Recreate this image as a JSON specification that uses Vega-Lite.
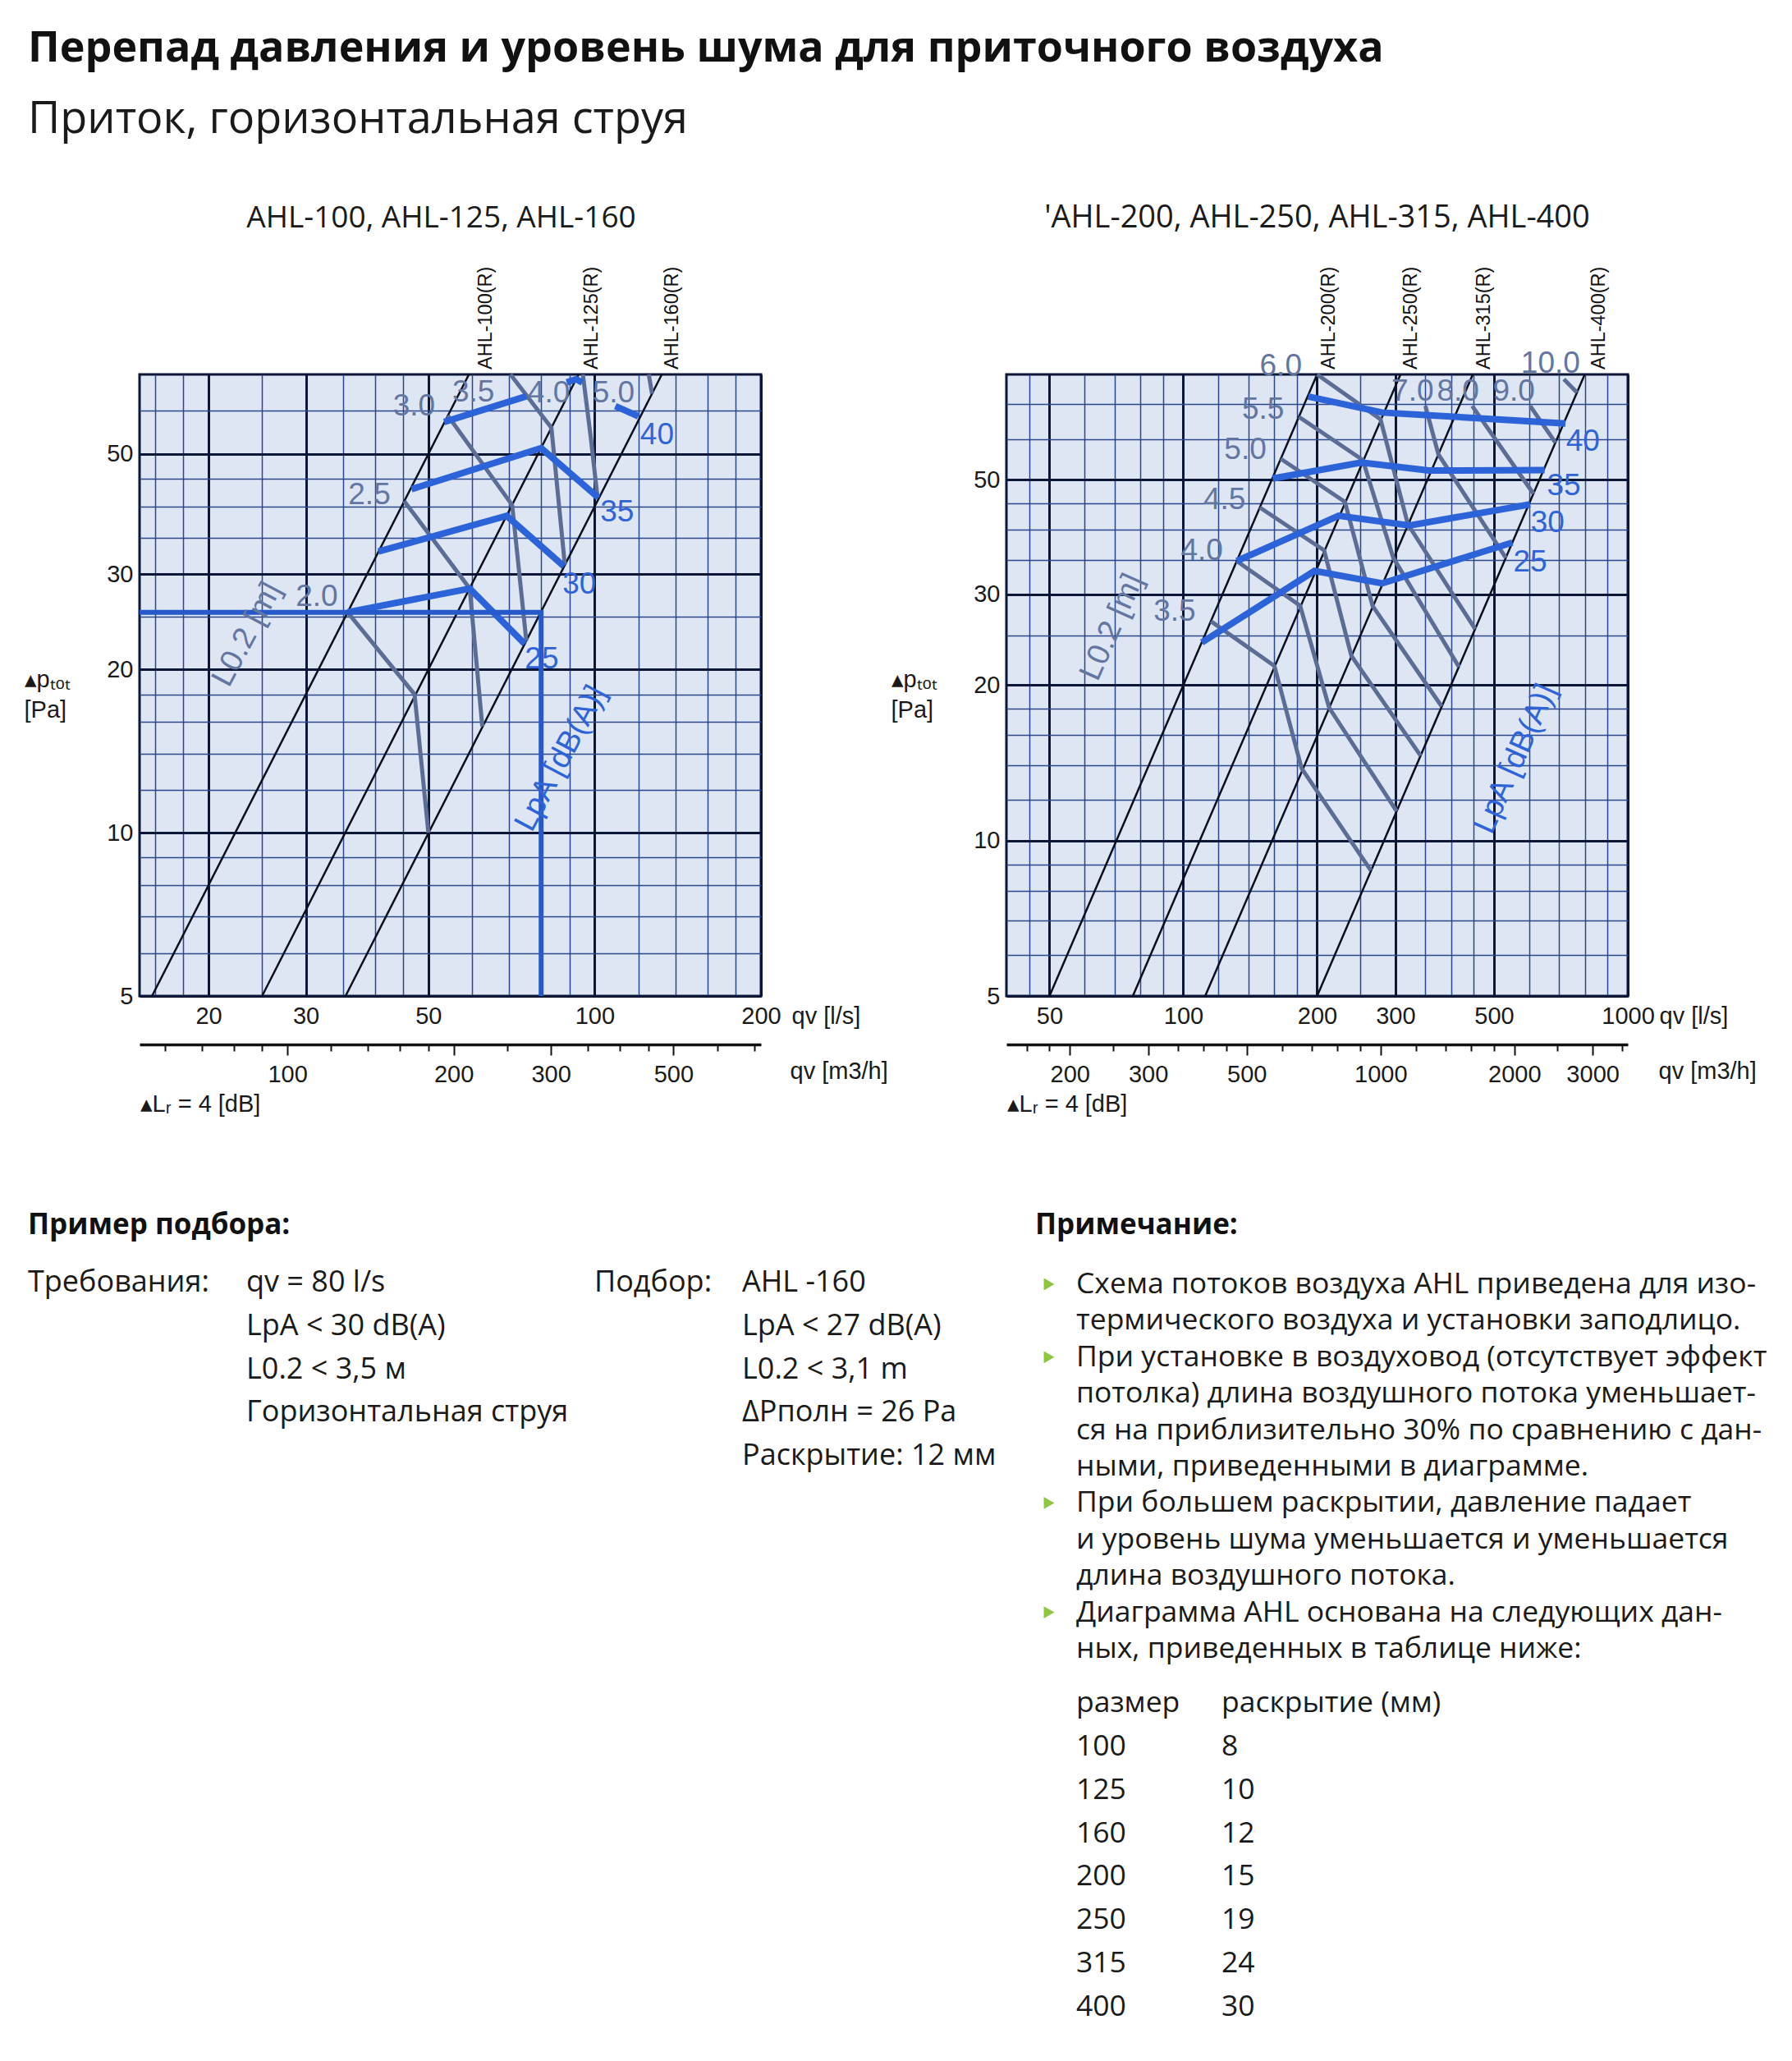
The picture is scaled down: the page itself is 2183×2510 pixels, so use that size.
{
"$schema":"https://vega.github.io/schema/vega-lite/v6.json",
"background":"white",
"padding":{"left":27,"top":33,"right":10,"bottom":10},
"title":{"text":"Перепад давления и уровень шума для приточного воздуха","subtitle":"Приток, горизонтальная струя","anchor":"start","frame":"group","dx":-136,"offset":71,"font":"Open Sans","fontSize":52,"fontWeight":"bold","color":"#111111","subtitleFont":"Open Sans","subtitleFontSize":54,"subtitleFontWeight":"normal","subtitleColor":"#1a1a1a","subtitlePadding":33},
"columns":2,
"spacing":{"row":323,"column":299},
"bounds":"flush",
"align":"each",
"datasets":{
"diag_L":[{"line":"AHL-100(R)","q":15.8,"dp":5},{"line":"AHL-100(R)","q":59.2,"dp":70},{"line":"AHL-125(R)","q":25,"dp":5},{"line":"AHL-125(R)","q":93.5,"dp":70},{"line":"AHL-160(R)","q":35.4,"dp":5},{"line":"AHL-160(R)","q":132.3,"dp":70}],
"throw_L":[
{"L":"2.0","pt":1,"q":35.7,"dp":25.5},{"L":"2.0","pt":2,"q":47.2,"dp":18},{"L":"2.0","pt":3,"q":50,"dp":10},
{"L":"2.5","pt":1,"q":45.2,"dp":40.9},{"L":"2.5","pt":2,"q":59.4,"dp":28.2},{"L":"2.5","pt":3,"q":62.6,"dp":15.7},
{"L":"3.0","pt":1,"q":54.2,"dp":58.8},{"L":"3.0","pt":2,"q":70.9,"dp":40.2},{"L":"3.0","pt":3,"q":75.2,"dp":22.6},
{"L":"3.5","pt":1,"q":70.4,"dp":70},{"L":"3.5","pt":2,"q":83.5,"dp":55.8},{"L":"3.5","pt":3,"q":88.3,"dp":31.2},
{"L":"4.0","pt":1,"q":95.2,"dp":70},{"L":"4.0","pt":2,"q":98.4,"dp":53.5},{"L":"4.0","pt":3,"q":101.2,"dp":41.5},
{"L":"5.0","pt":1,"q":125.3,"dp":70},{"L":"5.0","pt":2,"q":127,"dp":64.5}],
"noise_L":[
{"LpA":25,"seg":"25","pt":1,"q":35.7,"dp":25.5},{"LpA":25,"seg":"25","pt":2,"q":59.4,"dp":28.2},{"LpA":25,"seg":"25","pt":3,"q":74.7,"dp":22.3},
{"LpA":30,"seg":"30","pt":1,"q":40.6,"dp":33},{"LpA":30,"seg":"30","pt":2,"q":69.3,"dp":38.4},{"LpA":30,"seg":"30","pt":3,"q":88,"dp":31},
{"LpA":35,"seg":"35","pt":1,"q":46.6,"dp":43},{"LpA":35,"seg":"35","pt":2,"q":80,"dp":51.2},{"LpA":35,"seg":"35","pt":3,"q":101.5,"dp":41.5},
{"LpA":40,"seg":"40a","pt":1,"q":53.4,"dp":57.2},{"LpA":40,"seg":"40a","pt":2,"q":75.2,"dp":63.8},
{"LpA":40,"seg":"40b","pt":1,"q":89,"dp":67.7},{"LpA":40,"seg":"40b","pt":2,"q":92.6,"dp":68.6},{"LpA":40,"seg":"40b","pt":3,"q":95,"dp":67.6},
{"LpA":40,"seg":"40c","pt":1,"q":109,"dp":61.2},{"LpA":40,"seg":"40c","pt":2,"q":120,"dp":58.6}],
"example_L":[{"pt":1,"q":15,"dp":25.5},{"pt":2,"q":80,"dp":25.5},{"pt":3,"q":80,"dp":5}],
"labels_L":[
{"kind":"gray","text":"2.0","q":31.4,"dp":27.2},{"kind":"gray","text":"2.5","q":39.1,"dp":42},{"kind":"gray","text":"3.0","q":47.1,"dp":61.1},{"kind":"gray","text":"3.5","q":60.3,"dp":64.9},{"kind":"gray","text":"4.0","q":82.6,"dp":64.6},{"kind":"gray","text":"5.0","q":108.2,"dp":64.6},
{"kind":"blue","text":"25","q":80.2,"dp":20.9},{"kind":"blue","text":"30","q":93.8,"dp":28.7},{"kind":"blue","text":"35","q":109.8,"dp":39},{"kind":"blue","text":"40","q":129.7,"dp":54.1},
{"kind":"rotgray","text":"L0.2 [m]","q":23.5,"dp":23.2},{"kind":"rotblue","text":"LpA [dB(A)]","q":87,"dp":13.7}],
"ahl_L":[{"label":"AHL-100(R)","q":63.6,"dp":70},{"label":"AHL-125(R)","q":98.9,"dp":70},{"label":"AHL-160(R)","q":138,"dp":70}],
"diag_R":[{"line":"AHL-200(R)","q":50,"dp":5},{"line":"AHL-200(R)","q":200,"dp":80},{"line":"AHL-250(R)","q":77,"dp":5},{"line":"AHL-250(R)","q":308,"dp":80},{"line":"AHL-315(R)","q":112,"dp":5},{"line":"AHL-315(R)","q":448,"dp":80},{"line":"AHL-400(R)","q":200,"dp":5},{"line":"AHL-400(R)","q":800,"dp":80}],
"throw_R":[
{"L":"3.5","pt":1,"q":115.4,"dp":26.6},{"L":"3.5","pt":2,"q":160.3,"dp":21.8},{"L":"3.5","pt":3,"q":184.6,"dp":13.8},{"L":"3.5","pt":4,"q":264.2,"dp":8.75},
{"L":"4.0","pt":1,"q":131.9,"dp":34.8},{"L":"4.0","pt":2,"q":183.2,"dp":28.5},{"L":"4.0","pt":3,"q":212.8,"dp":18.1},{"L":"4.0","pt":4,"q":301.9,"dp":11.4},
{"L":"4.5","pt":1,"q":148.6,"dp":44.2},{"L":"4.5","pt":2,"q":207.4,"dp":36.5},{"L":"4.5","pt":3,"q":238.8,"dp":22.8},{"L":"4.5","pt":4,"q":341.9,"dp":14.6},
{"L":"5.0","pt":1,"q":165.7,"dp":54.9},{"L":"5.0","pt":2,"q":231,"dp":45.3},{"L":"5.0","pt":3,"q":266.5,"dp":28.5},{"L":"5.0","pt":4,"q":381.2,"dp":18.2},
{"L":"5.5","pt":1,"q":182,"dp":66.2},{"L":"5.5","pt":2,"q":253.4,"dp":54.6},{"L":"5.5","pt":3,"q":296.8,"dp":35.3},{"L":"5.5","pt":4,"q":417,"dp":21.7},
{"L":"6.0","pt":1,"q":200,"dp":80},{"L":"6.0","pt":2,"q":277.7,"dp":65.5},{"L":"6.0","pt":3,"q":320.1,"dp":41},{"L":"6.0","pt":4,"q":453.5,"dp":25.7},
{"L":"7.0","pt":1,"q":350.4,"dp":69.5},{"L":"7.0","pt":2,"q":374.9,"dp":56},{"L":"7.0","pt":3,"q":531.6,"dp":35.3},
{"L":"8.0","pt":1,"q":446.5,"dp":69.5},{"L":"8.0","pt":2,"q":613.4,"dp":47},
{"L":"9.0","pt":1,"q":603,"dp":69.5},{"L":"9.0","pt":2,"q":687.6,"dp":59},
{"L":"10.0","pt":1,"q":718,"dp":78.3},{"L":"10.0","pt":2,"q":768.4,"dp":73.8}],
"noise_R":[
{"LpA":25,"seg":"25","pt":1,"q":110.1,"dp":24.2},{"LpA":25,"seg":"25","pt":2,"q":197.3,"dp":33.3},{"LpA":25,"seg":"25","pt":3,"q":280,"dp":31.5},{"LpA":25,"seg":"25","pt":4,"q":550,"dp":37.8},
{"LpA":30,"seg":"30","pt":1,"q":131.9,"dp":34.8},{"LpA":30,"seg":"30","pt":2,"q":223.6,"dp":42.6},{"LpA":30,"seg":"30","pt":3,"q":322.8,"dp":40.8},{"LpA":30,"seg":"30","pt":4,"q":602.8,"dp":44.8},
{"LpA":35,"seg":"35","pt":1,"q":158.9,"dp":50.3},{"LpA":35,"seg":"35","pt":2,"q":251.4,"dp":54},{"LpA":35,"seg":"35","pt":3,"q":356.6,"dp":52.1},{"LpA":35,"seg":"35","pt":4,"q":650,"dp":52.2},
{"LpA":40,"seg":"40","pt":1,"q":190.9,"dp":72.5},{"LpA":40,"seg":"40","pt":2,"q":280,"dp":67.5},{"LpA":40,"seg":"40","pt":3,"q":724,"dp":64.3}],
"labels_R":[
{"kind":"gray","text":"6.0","q":165.7,"dp":83},{"kind":"gray","text":"5.5","q":151.2,"dp":68.3},{"kind":"gray","text":"5.0","q":137.9,"dp":57.1},{"kind":"gray","text":"4.5","q":123.8,"dp":45.6},{"kind":"gray","text":"4.0","q":110.1,"dp":36.4},{"kind":"gray","text":"3.5","q":95.6,"dp":27.8},
{"kind":"gray","text":"7.0","q":328,"dp":74},{"kind":"gray","text":"8.0","q":415,"dp":74},{"kind":"gray","text":"9.0","q":554,"dp":74},{"kind":"gray","text":"10.0","q":670,"dp":84},
{"kind":"blue","text":"25","q":603,"dp":34.6},{"kind":"blue","text":"30","q":660,"dp":41.2},{"kind":"blue","text":"35","q":718,"dp":48.7},{"kind":"blue","text":"40","q":792.7,"dp":59.2},
{"kind":"rotgray","text":"L0.2 [m]","q":69.2,"dp":25.9},{"kind":"rotblue","text":"LpA [dB(A)]","q":560,"dp":14.4}],
"ahl_R":[{"label":"AHL-200(R)","q":213,"dp":80},{"label":"AHL-250(R)","q":325,"dp":80},{"label":"AHL-315(R)","q":476,"dp":80},{"label":"AHL-400(R)","q":860,"dp":80}],
"example_req":[{"col":"k","line":1,"text":"Требования:"},{"col":"v","line":1,"text":"qv = 80 l/s"},{"col":"v","line":2,"text":"LpA < 30 dB(A)"},{"col":"v","line":3,"text":"L0.2 < 3,5 м"},{"col":"v","line":4,"text":"Горизонтальная струя"}],
"example_sel":[{"col":"k","line":1,"text":"Подбор:"},{"col":"v","line":1,"text":"AHL -160"},{"col":"v","line":2,"text":"LpA < 27 dB(A)"},{"col":"v","line":3,"text":"L0.2 < 3,1 m"},{"col":"v","line":4,"text":"ΔPполн = 26 Pa"},{"col":"v","line":5,"text":"Раскрытие: 12 мм"}],
"notes_bullets":[{"line":1,"col":"bullet"},{"line":3,"col":"bullet"},{"line":7,"col":"bullet"},{"line":10,"col":"bullet"}],
"notes_lines":[
{"line":1,"col":"text","text":"Схема потоков воздуха AHL приведена для изо-"},
{"line":2,"col":"text","text":"термического воздуха и установки заподлицо."},
{"line":3,"col":"text","text":"При установке в воздуховод (отсутствует эффект"},
{"line":4,"col":"text","text":"потолка) длина воздушного потока уменьшает-"},
{"line":5,"col":"text","text":"ся на приблизительно 30% по сравнению с дан-"},
{"line":6,"col":"text","text":"ными, приведенными в диаграмме."},
{"line":7,"col":"text","text":"При большем раскрытии, давление падает"},
{"line":8,"col":"text","text":"и уровень шума уменьшается и уменьшается"},
{"line":9,"col":"text","text":"длина воздушного потока."},
{"line":10,"col":"text","text":"Диаграмма AHL основана на следующих дан-"},
{"line":11,"col":"text","text":"ных, приведенных в таблице ниже:"}],
"notes_table":[
{"row":0,"col":"size","text":"размер"},{"row":0,"col":"opening","text":"раскрытие (мм)"},
{"row":1,"col":"size","text":"100"},{"row":1,"col":"opening","text":"8"},
{"row":2,"col":"size","text":"125"},{"row":2,"col":"opening","text":"10"},
{"row":3,"col":"size","text":"160"},{"row":3,"col":"opening","text":"12"},
{"row":4,"col":"size","text":"200"},{"row":4,"col":"opening","text":"15"},
{"row":5,"col":"size","text":"250"},{"row":5,"col":"opening","text":"19"},
{"row":6,"col":"size","text":"315"},{"row":6,"col":"opening","text":"24"},
{"row":7,"col":"size","text":"400"},{"row":7,"col":"opening","text":"30"}]
},
"concat":[
{
"width":757,"height":757,
"view":{"fill":"#dfe6f3","stroke":"#0c1738","strokeWidth":3},
"title":{"text":"AHL-100, AHL-125, AHL-160","anchor":"middle","dx":-11,"font":"Open Sans","fontSize":37,"fontWeight":"normal","color":"#1a1a1a","offset":40},
"resolve":{"scale":{"x":"independent"}},
"layer":[
{"data":{"name":"diag_L"},"mark":{"type":"line","color":"#0a0f1f","strokeWidth":2.5},
"encoding":{
"x":{"field":"q","type":"quantitative","scale":{"type":"log","domain":[15,200],"nice":false},
"axis":{"orient":"bottom","values":[16,18,20,25,30,35,40,45,50,60,70,80,90,100,120,140,160,180,200],
"labelExpr":"indexof([20,30,50,100,200], datum.value) >= 0 ? format(datum.value, 'd') : ''",
"grid":true,"gridOpacity":1,
"gridColor":{"condition":{"test":"indexof([20,30,50,100,200], datum.value) >= 0","value":"#0c1738"},"value":"#29478a"},
"gridWidth":{"condition":{"test":"indexof([20,30,50,100,200], datum.value) >= 0","value":3},"value":1.5},
"ticks":false,"domain":false,"labelFont":"Liberation Sans","labelFontSize":29,"labelColor":"#1a1a1a","labelPadding":10,"labelFlush":false,"labelOverlap":false,
"title":"qv [l/s]","titleX":794,"titleY":24,"titleAlign":"left","titleBaseline":"middle","titleFont":"Liberation Sans","titleFontSize":29,"titleFontWeight":"normal","titleColor":"#1a1a1a"}},
"y":{"field":"dp","type":"quantitative","scale":{"type":"log","domain":[5,70],"nice":false},
"axis":{"orient":"left","values":[5,6,7,8,9,10,12,14,16,18,20,25,30,35,40,45,50,60],
"labelExpr":"indexof([5,10,20,30,50], datum.value) >= 0 ? format(datum.value, 'd') : ''",
"grid":true,"gridOpacity":1,
"gridColor":{"condition":{"test":"indexof([5,10,20,30,50], datum.value) >= 0","value":"#0c1738"},"value":"#29478a"},
"gridWidth":{"condition":{"test":"indexof([5,10,20,30,50], datum.value) >= 0","value":3},"value":1.5},
"ticks":false,"domain":false,"labelFont":"Liberation Sans","labelFontSize":29,"labelColor":"#1a1a1a","labelPadding":8,"labelFlush":false,"labelOverlap":false,
"title":["▴pₜₒₜ","[Pa]"],"titleAngle":0,"titleX":-141,"titleY":371,"titleAlign":"left","titleBaseline":"middle","titleLineHeight":37,"titleFont":"Liberation Sans","titleFontSize":29,"titleFontWeight":"normal","titleColor":"#1a1a1a"}},
"detail":{"field":"line","type":"nominal"}}},
{"data":{"name":"throw_L"},"mark":{"type":"line","color":"#5b6d95","strokeWidth":5},
"encoding":{"x":{"field":"q","type":"quantitative","scale":{"type":"log","domain":[15,200],"nice":false},"axis":null},
"y":{"field":"dp","type":"quantitative"},"detail":{"field":"L","type":"nominal"},"order":{"field":"pt","type":"quantitative"}}},
{"data":{"name":"noise_L"},"mark":{"type":"line","color":"#2d63d8","strokeWidth":8},
"encoding":{"x":{"field":"q","type":"quantitative","scale":{"type":"log","domain":[15,200],"nice":false},"axis":null},
"y":{"field":"dp","type":"quantitative"},"detail":{"field":"seg","type":"nominal"},"order":{"field":"pt","type":"quantitative"}}},
{"data":{"name":"example_L"},"mark":{"type":"line","color":"#2659c9","strokeWidth":6},
"encoding":{"x":{"field":"q","type":"quantitative","scale":{"type":"log","domain":[15,200],"nice":false},"axis":null},
"y":{"field":"dp","type":"quantitative"},"order":{"field":"pt","type":"quantitative"}}},
{"data":{"name":"labels_L"},"transform":[{"filter":"datum.kind == 'gray' || datum.kind == 'blue'"}],
"mark":{"type":"text","font":"Liberation Sans","fontSize":37,"align":"center","baseline":"middle"},
"encoding":{"x":{"field":"q","type":"quantitative","scale":{"type":"log","domain":[15,200],"nice":false},"axis":null},
"y":{"field":"dp","type":"quantitative"},"text":{"field":"text"},
"color":{"condition":{"test":"datum.kind == 'blue'","value":"#2e64d8"},"value":"#6376a1"}}},
{"data":{"name":"labels_L"},"transform":[{"filter":"datum.kind == 'rotgray' || datum.kind == 'rotblue'"}],
"mark":{"type":"text","font":"Liberation Sans","fontSize":38,"align":"center","baseline":"middle","angle":298},
"encoding":{"x":{"field":"q","type":"quantitative","scale":{"type":"log","domain":[15,200],"nice":false},"axis":null},
"y":{"field":"dp","type":"quantitative"},"text":{"field":"text"},
"color":{"condition":{"test":"datum.kind == 'rotblue'","value":"#2e64d8"},"value":"#6376a1"}}},
{"data":{"name":"ahl_L"},
"mark":{"type":"text","font":"Liberation Sans","fontSize":23.5,"align":"left","baseline":"middle","angle":270,"dx":6,"color":"#111111"},
"encoding":{"x":{"field":"q","type":"quantitative","scale":{"type":"log","domain":[15,200],"nice":false},
"axis":{"orient":"bottom","labels":false,"ticks":false,"domain":false,"grid":false,"title":"▴Lᵣ = 4 [dB]","titleX":0,"titleY":131,"titleAlign":"left","titleBaseline":"middle","titleFont":"Liberation Sans","titleFontSize":29,"titleFontWeight":"normal","titleColor":"#1a1a1a"}},
"y":{"field":"dp","type":"quantitative"},"text":{"field":"label"}}},
{"mark":{"type":"point","opacity":0},
"encoding":{"x":{"datum":100,"type":"quantitative","scale":{"type":"log","domain":[54,720],"nice":false},
"axis":{"orient":"bottom","offset":59,"values":[60,70,80,90,100,120,140,160,180,200,250,300,350,400,450,500,600,700],
"labelExpr":"indexof([100,200,300,500], datum.value) >= 0 ? format(datum.value, 'd') : ''",
"grid":false,"domain":true,"domainColor":"#111111","domainWidth":3.5,"ticks":true,"tickColor":"#111111","tickWidth":2,
"tickSize":{"condition":{"test":"indexof([100,200,300,500], datum.value) >= 0","value":13},"value":8},
"labelFont":"Liberation Sans","labelFontSize":29,"labelColor":"#1a1a1a","labelPadding":9,"labelFlush":false,"labelOverlap":false,
"title":"qv [m3/h]","titleX":792,"titleY":32,"titleAlign":"left","titleBaseline":"middle","titleFont":"Liberation Sans","titleFontSize":29,"titleFontWeight":"normal","titleColor":"#1a1a1a"}}}}
]},
{
"width":757,"height":757,
"view":{"fill":"#dfe6f3","stroke":"#0c1738","strokeWidth":3},
"title":{"text":"'AHL-200, AHL-250, AHL-315, AHL-400","anchor":"middle","font":"Open Sans","fontSize":38,"fontWeight":"normal","color":"#1a1a1a","offset":40},
"resolve":{"scale":{"x":"independent"}},
"layer":[
{"data":{"name":"diag_R"},"mark":{"type":"line","color":"#0a0f1f","strokeWidth":2.5},
"encoding":{
"x":{"field":"q","type":"quantitative","scale":{"type":"log","domain":[40,1000],"nice":false},
"axis":{"orient":"bottom","values":[45,50,60,70,80,90,100,120,140,160,180,200,250,300,350,400,450,500,600,700,800,900,1000],
"labelExpr":"indexof([50,100,200,300,500,1000], datum.value) >= 0 ? format(datum.value, 'd') : ''",
"grid":true,"gridOpacity":1,
"gridColor":{"condition":{"test":"indexof([50,100,200,300,500,1000], datum.value) >= 0","value":"#0c1738"},"value":"#29478a"},
"gridWidth":{"condition":{"test":"indexof([50,100,200,300,500,1000], datum.value) >= 0","value":3},"value":1.5},
"ticks":false,"domain":false,"labelFont":"Liberation Sans","labelFontSize":29,"labelColor":"#1a1a1a","labelPadding":10,"labelFlush":false,"labelOverlap":false,
"title":"qv [l/s]","titleX":795,"titleY":24,"titleAlign":"left","titleBaseline":"middle","titleFont":"Liberation Sans","titleFontSize":29,"titleFontWeight":"normal","titleColor":"#1a1a1a"}},
"y":{"field":"dp","type":"quantitative","scale":{"type":"log","domain":[5,80],"nice":false},
"axis":{"orient":"left","values":[5,6,7,8,9,10,12,14,16,18,20,25,30,35,40,45,50,60,70],
"labelExpr":"indexof([5,10,20,30,50], datum.value) >= 0 ? format(datum.value, 'd') : ''",
"grid":true,"gridOpacity":1,
"gridColor":{"condition":{"test":"indexof([5,10,20,30,50], datum.value) >= 0","value":"#0c1738"},"value":"#29478a"},
"gridWidth":{"condition":{"test":"indexof([5,10,20,30,50], datum.value) >= 0","value":3},"value":1.5},
"ticks":false,"domain":false,"labelFont":"Liberation Sans","labelFontSize":29,"labelColor":"#1a1a1a","labelPadding":8,"labelFlush":false,"labelOverlap":false,
"title":["▴pₜₒₜ","[Pa]"],"titleAngle":0,"titleX":-141,"titleY":371,"titleAlign":"left","titleBaseline":"middle","titleLineHeight":37,"titleFont":"Liberation Sans","titleFontSize":29,"titleFontWeight":"normal","titleColor":"#1a1a1a"}},
"detail":{"field":"line","type":"nominal"}}},
{"data":{"name":"throw_R"},"mark":{"type":"line","color":"#5b6d95","strokeWidth":5},
"encoding":{"x":{"field":"q","type":"quantitative","scale":{"type":"log","domain":[40,1000],"nice":false},"axis":null},
"y":{"field":"dp","type":"quantitative"},"detail":{"field":"L","type":"nominal"},"order":{"field":"pt","type":"quantitative"}}},
{"data":{"name":"noise_R"},"mark":{"type":"line","color":"#2d63d8","strokeWidth":8},
"encoding":{"x":{"field":"q","type":"quantitative","scale":{"type":"log","domain":[40,1000],"nice":false},"axis":null},
"y":{"field":"dp","type":"quantitative"},"detail":{"field":"seg","type":"nominal"},"order":{"field":"pt","type":"quantitative"}}},
{"data":{"name":"labels_R"},"transform":[{"filter":"datum.kind == 'gray' || datum.kind == 'blue'"}],
"mark":{"type":"text","font":"Liberation Sans","fontSize":37,"align":"center","baseline":"middle"},
"encoding":{"x":{"field":"q","type":"quantitative","scale":{"type":"log","domain":[40,1000],"nice":false},"axis":null},
"y":{"field":"dp","type":"quantitative"},"text":{"field":"text"},
"color":{"condition":{"test":"datum.kind == 'blue'","value":"#2e64d8"},"value":"#6376a1"}}},
{"data":{"name":"labels_R"},"transform":[{"filter":"datum.kind == 'rotgray' || datum.kind == 'rotblue'"}],
"mark":{"type":"text","font":"Liberation Sans","fontSize":38,"align":"center","baseline":"middle","angle":294},
"encoding":{"x":{"field":"q","type":"quantitative","scale":{"type":"log","domain":[40,1000],"nice":false},"axis":null},
"y":{"field":"dp","type":"quantitative"},"text":{"field":"text"},
"color":{"condition":{"test":"datum.kind == 'rotblue'","value":"#2e64d8"},"value":"#6376a1"}}},
{"data":{"name":"ahl_R"},
"mark":{"type":"text","font":"Liberation Sans","fontSize":23.5,"align":"left","baseline":"middle","angle":270,"dx":6,"color":"#111111"},
"encoding":{"x":{"field":"q","type":"quantitative","scale":{"type":"log","domain":[40,1000],"nice":false},
"axis":{"orient":"bottom","labels":false,"ticks":false,"domain":false,"grid":false,"title":"▴Lᵣ = 4 [dB]","titleX":0,"titleY":131,"titleAlign":"left","titleBaseline":"middle","titleFont":"Liberation Sans","titleFontSize":29,"titleFontWeight":"normal","titleColor":"#1a1a1a"}},
"y":{"field":"dp","type":"quantitative"},"text":{"field":"label"}}},
{"mark":{"type":"point","opacity":0},
"encoding":{"x":{"datum":1000,"type":"quantitative","scale":{"type":"log","domain":[144,3600],"nice":false},
"axis":{"orient":"bottom","offset":59,"values":[160,180,200,250,300,350,400,450,500,600,700,800,900,1000,1200,1400,1600,1800,2000,2500,3000,3500],
"labelExpr":"indexof([200,300,500,1000,2000,3000], datum.value) >= 0 ? format(datum.value, 'd') : ''",
"grid":false,"domain":true,"domainColor":"#111111","domainWidth":3.5,"ticks":true,"tickColor":"#111111","tickWidth":2,
"tickSize":{"condition":{"test":"indexof([200,300,500,1000,2000,3000], datum.value) >= 0","value":13},"value":8},
"labelFont":"Liberation Sans","labelFontSize":29,"labelColor":"#1a1a1a","labelPadding":9,"labelFlush":false,"labelOverlap":false,
"title":"qv [m3/h]","titleX":794,"titleY":32,"titleAlign":"left","titleBaseline":"middle","titleFont":"Liberation Sans","titleFontSize":29,"titleFontWeight":"normal","titleColor":"#1a1a1a"}}}}
]},
{
"width":757,"height":265,
"view":{"stroke":null,"fill":null},
"title":{"text":"Пример подбора:","anchor":"start","frame":"group","dx":-136,"offset":26,"font":"Open Sans","fontSize":35,"fontWeight":"bold","color":"#111111"},
"resolve":{"scale":{"x":"independent"}},
"layer":[
{"data":{"name":"example_req"},"mark":{"type":"text","align":"left","baseline":"middle","font":"Open Sans","fontSize":36,"color":"#1a1a1a"},
"encoding":{"x":{"field":"col","type":"nominal","scale":{"type":"point","domain":["k","v"],"range":[-136,130],"padding":0},"axis":null},
"y":{"field":"line","type":"quantitative","scale":{"domain":[1,5],"range":[26,237],"nice":false,"zero":false},"axis":null},
"text":{"field":"text"}}},
{"data":{"name":"example_sel"},"mark":{"type":"text","align":"left","baseline":"middle","font":"Open Sans","fontSize":36,"color":"#1a1a1a"},
"encoding":{"x":{"field":"col","type":"nominal","scale":{"type":"point","domain":["k","v"],"range":[554,734],"padding":0},"axis":null},
"y":{"field":"line","type":"quantitative"},
"text":{"field":"text"}}}
]},
{
"width":757,"height":930,
"view":{"stroke":null,"fill":null},
"title":{"text":"Примечание:","anchor":"start","frame":"group","dx":35,"offset":26,"font":"Open Sans","fontSize":35,"fontWeight":"bold","color":"#111111"},
"resolve":{"scale":{"x":"independent","y":"independent"}},
"layer":[
{"data":{"name":"notes_bullets"},"mark":{"type":"point","shape":"triangle-right","filled":true,"size":220,"color":"#8dc63f","opacity":1},
"encoding":{"x":{"field":"col","type":"nominal","scale":{"type":"point","domain":["bullet","text"],"range":[52,85],"padding":0},"axis":null},
"y":{"field":"line","type":"quantitative","scale":{"domain":[1,11],"range":[28,472],"nice":false,"zero":false},"axis":null}}},
{"data":{"name":"notes_lines"},"mark":{"type":"text","align":"left","baseline":"middle","font":"Open Sans","fontSize":35.5,"color":"#1a1a1a"},
"encoding":{"x":{"field":"col","type":"nominal","scale":{"type":"point","domain":["bullet","text"],"range":[52,85],"padding":0},"axis":null},
"y":{"field":"line","type":"quantitative","scale":{"domain":[1,11],"range":[28,472],"nice":false,"zero":false},"axis":null},
"text":{"field":"text"}}},
{"data":{"name":"notes_table"},"mark":{"type":"text","align":"left","baseline":"middle","font":"Open Sans","fontSize":35.5,"color":"#1a1a1a"},
"encoding":{"x":{"field":"col","type":"nominal","scale":{"type":"point","domain":["size","opening"],"range":[85,262],"padding":0},"axis":null},
"y":{"field":"row","type":"quantitative","scale":{"domain":[0,7],"range":[538,908],"nice":false,"zero":false},"axis":null},
"text":{"field":"text"}}}
]}
]
}
